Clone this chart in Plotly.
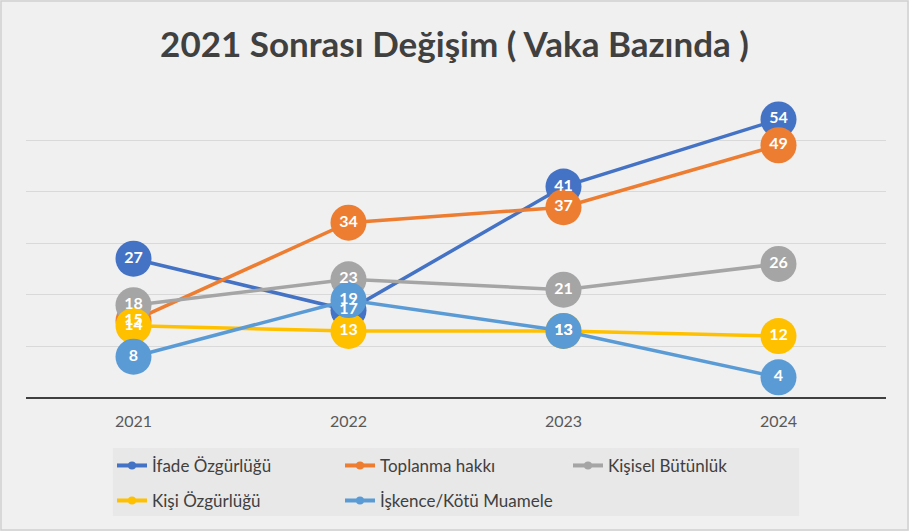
import plotly.graph_objects as go

years = ["2021", "2022", "2023", "2024"]

ifade = [27, 17, 41, 54]
toplanma = [15, 34, 37, 49]
kisisel = [18, 23, 21, 26]
kisi = [14, 13, 13, 12]
iskence = [8, 19, 13, 4]

series = [
    ("İfade Özgürlüğü", ifade, "#4472C4"),
    ("Toplanma hakkı", toplanma, "#ED7D31"),
    ("Kişisel Bütünlük", kisisel, "#A5A5A5"),
    ("Kişi Özgürlüğü", kisi, "#FFC000"),
    ("İşkence/Kötü Muamele", iskence, "#5B9BD5"),
]

fig = go.Figure()

# lines and big circle markers
for name, vals, color in series:
    fig.add_trace(go.Scatter(
        x=years, y=vals, mode="lines+markers", name=name,
        line=dict(color=color, width=3.5),
        marker=dict(size=36, color=color),
        showlegend=False, hoverinfo="skip"
    ))

# labels drawn on top of all markers
for name, vals, color in series:
    fig.add_trace(go.Scatter(
        x=years, y=vals, mode="text", text=[str(v) for v in vals],
        textposition="middle center",
        textfont=dict(family="Lato", size=16, color="white", weight="bold"),
        showlegend=False, hoverinfo="skip"
    ))

# legend entries, 3 on first row and 2 on second
for i, (name, vals, color) in enumerate(series):
    fig.add_trace(go.Scatter(
        x=[None], y=[None], mode="lines+markers", name=name,
        line=dict(color=color, width=4),
        marker=dict(size=8, color=color),
        legend="legend" if i < 3 else "legend2"
    ))

legend_style = dict(
    orientation="h", xanchor="left", yanchor="top",
    bgcolor="rgba(0,0,0,0)", font=dict(family="Lato", size=17, color="#404040"),
    entrywidth=183, entrywidthmode="pixels", traceorder="normal",
)

fig.update_layout(
    width=909, height=531,
    title=dict(text="<b>2021 Sonrası Değişim ( Vaka Bazında )</b>",
               xref="container", x=0.5, xanchor="center",
               y=0.915, yanchor="middle",
               font=dict(family="Lato", size=35, color="#404040")),
    paper_bgcolor="#f0f0f0", plot_bgcolor="rgba(0,0,0,0)",
    margin=dict(l=26, r=23, t=88, b=133),
    font=dict(family="Lato", color="#595959"),
    xaxis=dict(type="category", range=[-0.5, 3.5], showgrid=False,
               showline=False, ticks="", ticklabelstandoff=12,
               tickfont=dict(size=16, color="#595959")),
    yaxis=dict(range=[0, 60.1], dtick=10, showticklabels=False,
               gridcolor="#d9d9d9", gridwidth=1,
               zeroline=True, zerolinecolor="#404040", zerolinewidth=2),
    legend=dict(x=0.100, y=-0.161, **legend_style),
    legend2=dict(x=0.100, y=-0.274, **legend_style),
    shapes=[
        dict(type="rect", xref="paper", yref="paper",
             x0=0.101, x1=0.899, y0=-0.381, y1=-0.161,
             fillcolor="#e8e8e8", line=dict(width=0), layer="below"),
        dict(type="rect", xref="paper", yref="paper",
             x0=-25 / 860, x1=882 / 860, y0=-132 / 310, y1=(310 + 87) / 310,
             fillcolor="rgba(0,0,0,0)", line=dict(color="#cfcfcf", width=1.5)),
    ],
)

fig.write_html("out.html", config={"displayModeBar": False},
               post_script="document.body.style.margin='0';")
